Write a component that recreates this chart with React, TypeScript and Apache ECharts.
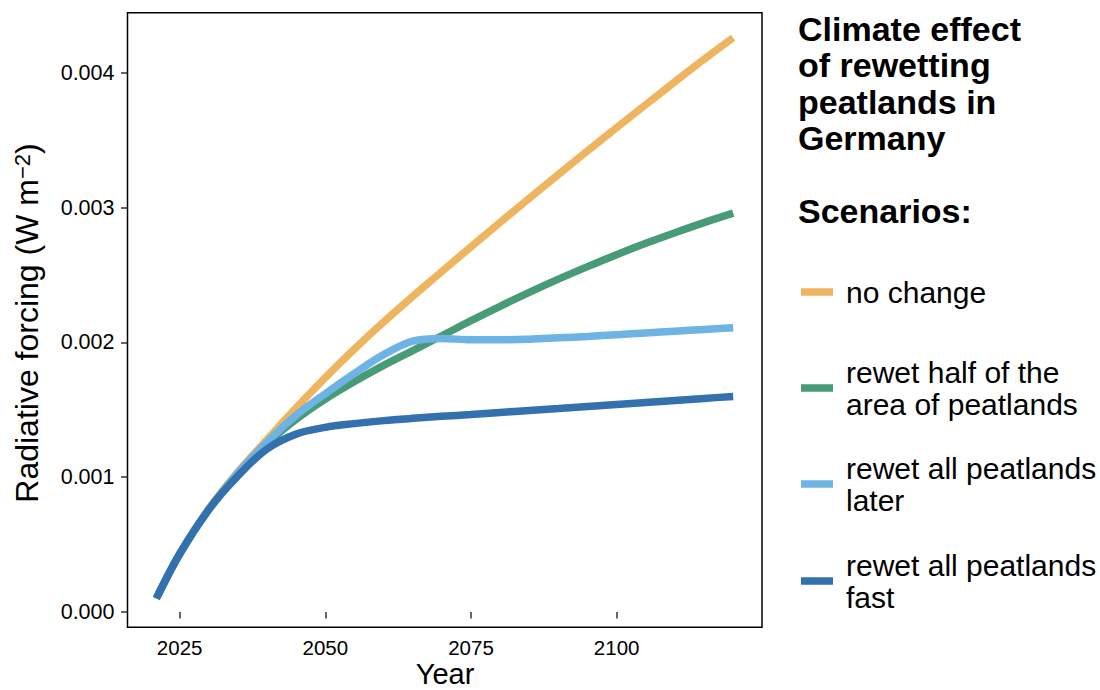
import React, { useEffect, useRef } from "react";
import * as echarts from "echarts";

const years = [2021, 2025, 2030, 2035, 2040, 2045, 2050, 2055, 2060, 2065, 2070, 2075, 2080, 2085, 2090, 2095, 2100, 2105, 2110, 2115, 2120];
const noChange = [0.0001, 0.00043, 0.000765, 0.00104, 0.00128, 0.001515, 0.00174, 0.001952, 0.002152, 0.002342, 0.002527, 0.00271, 0.002891, 0.00307, 0.003247, 0.003422, 0.003595, 0.003766, 0.003935, 0.004102, 0.004262];
const rewetHalf = [0.0001, 0.00043, 0.00076, 0.00103, 0.00125, 0.00143, 0.00158, 0.00171, 0.00183, 0.00194, 0.00205, 0.002162, 0.002269, 0.002372, 0.00247, 0.002563, 0.002652, 0.002736, 0.002815, 0.00289, 0.00296];
const rewetLater = [0.0001, 0.00043, 0.00076, 0.00103, 0.00126, 0.00146, 0.00162, 0.00177, 0.00191, 0.00201, 0.00203, 0.00202, 0.00202, 0.002025, 0.002035, 0.002045, 0.002058, 0.002071, 0.002084, 0.002097, 0.00211];
const rewetFast = [0.0001, 0.00043, 0.00076, 0.00101, 0.00121, 0.00132, 0.00137, 0.001398, 0.00142, 0.001437, 0.001452, 0.001466, 0.001481, 0.001496, 0.00151, 0.001525, 0.00154, 0.001555, 0.00157, 0.001585, 0.0016];

const xTicks = [2025, 2050, 2075, 2100];
const yTicks = [0, 0.001, 0.002, 0.003, 0.004];

const scenarioLabels = [
  "no change",
  "rewet half of the\narea of peatlands",
  "rewet all peatlands\nlater",
  "rewet all peatlands\nfast",
];
const scenarioColors = ["#EFB45F", "#479B77", "#6DB3E3", "#3270AE"];
const titleLines = ["Climate effect", "of rewetting", "peatlands in", "Germany"];

const FONT = "'Liberation Sans', Arial, Helvetica, sans-serif";

export default function App() {
  const ref = useRef<HTMLDivElement>(null);

  useEffect(() => {
    if (!ref.current) return;
    const chart = echarts.init(ref.current, undefined, { renderer: "svg" });
    const seriesValues = [noChange, rewetHalf, rewetLater, rewetFast];

    const keyY = [292, 388, 484, 581];
    const graphics: any[] = [];
    titleLines.forEach((t, i) => {
      graphics.push({
        type: "text",
        x: 798,
        y: 28.5 + i * 36.5,
        style: { text: t, font: `bold 34px ${FONT}`, fill: "#000", verticalAlign: "middle", align: "left" },
      });
    });
    graphics.push({
      type: "text",
      x: 798,
      y: 211,
      style: { text: "Scenarios:", font: `bold 34px ${FONT}`, fill: "#000", verticalAlign: "middle", align: "left" },
    });
    scenarioLabels.forEach((t, i) => {
      graphics.push({
        type: "line",
        shape: { x1: 801, y1: keyY[i], x2: 833, y2: keyY[i] },
        style: { stroke: scenarioColors[i], lineWidth: 7.5 },
      });
      graphics.push({
        type: "text",
        x: 846,
        y: keyY[i],
        style: { text: t, font: `30px ${FONT}`, fill: "#000", verticalAlign: "middle", align: "left", lineHeight: 32 },
      });
    });
    graphics.push({
      type: "text",
      x: 27,
      y: 323,
      rotation: Math.PI / 2,
      style: {
        text: "{a|Radiative forcing (W m}{b|−2}{a|)}",
        align: "center",
        verticalAlign: "middle",
        rich: {
          a: { fontSize: 32, fontFamily: FONT, fill: "#000", lineHeight: 32, verticalAlign: "bottom" },
          b: { fontSize: 22, fontFamily: FONT, fill: "#000", lineHeight: 22, verticalAlign: "top", padding: [0, 0, 16, 0] },
        },
      },
    });
    graphics.push({
      type: "text",
      x: 445,
      y: 674,
      style: { text: "Year", font: `29px ${FONT}`, fill: "#000", align: "center", verticalAlign: "middle" },
    });

    chart.setOption({
      animation: false,
      backgroundColor: "#fff",
      grid: {
        left: 127.5,
        right: 338,
        top: 12.7,
        bottom: 62.7,
        show: true,
        borderColor: "#000",
        borderWidth: 1.5,
        backgroundColor: "transparent",
      },
      xAxis: {
        type: "value",
        min: 2016.05,
        max: 2124.95,
        axisLine: { show: false },
        splitLine: { show: false },
        axisTick: { show: true, customValues: xTicks, length: 6.5, lineStyle: { color: "#333", width: 1.5 } },
        axisLabel: { customValues: xTicks, fontSize: 20.5, fontFamily: FONT, color: "#000", margin: 10, formatter: (v: number) => String(v) },
      },
      yAxis: {
        type: "value",
        min: -0.000114,
        max: 0.004448,
        axisLine: { show: false },
        splitLine: { show: false },
        axisTick: { show: true, customValues: yTicks, length: 6.5, lineStyle: { color: "#333", width: 1.5 } },
        axisLabel: { customValues: yTicks, fontSize: 21.5, fontFamily: FONT, color: "#000", margin: 13, formatter: (v: number) => v.toFixed(3) },
      },
      series: seriesValues.map((vals, i) => ({
        type: "line",
        name: scenarioLabels[i],
        data: years.map((y, j) => [y, vals[j]]),
        showSymbol: false,
        smooth: 0.35,
        lineStyle: { color: scenarioColors[i], width: 7.5, cap: "butt" },
        itemStyle: { color: scenarioColors[i] },
        z: 2 + i,
      })),
      graphic: graphics,
    });

    return () => chart.dispose();
  }, []);

  return <div ref={ref} style={{ position: "fixed", left: 0, top: 0, width: 1100, height: 690 }} />;
}
